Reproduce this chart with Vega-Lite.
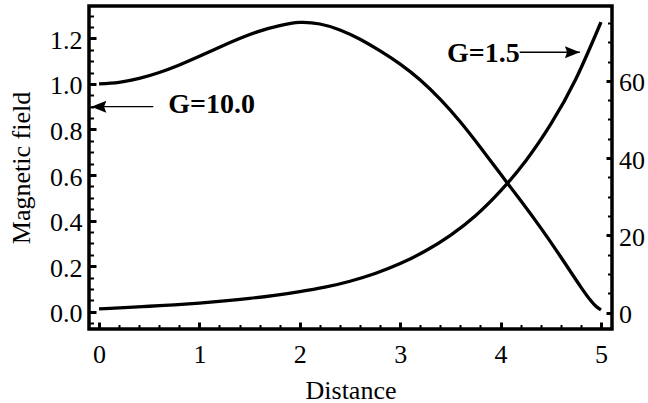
{
  "$schema": "https://vega.github.io/schema/vega-lite/v6.json",
  "width": 523,
  "height": 323,
  "autosize": {"type": "none"},
  "padding": {"left": 89, "top": 6, "right": 36, "bottom": 74},
  "background": "white",
  "datasets": {
    "fieldA": [
      {"d": 0.00, "b": 1.000}, {"d": 0.20, "b": 1.007}, {"d": 0.40, "b": 1.024},
      {"d": 0.60, "b": 1.050}, {"d": 0.80, "b": 1.083}, {"d": 1.00, "b": 1.121},
      {"d": 1.20, "b": 1.161}, {"d": 1.40, "b": 1.199}, {"d": 1.60, "b": 1.232},
      {"d": 1.80, "b": 1.256}, {"d": 2.00, "b": 1.270}, {"d": 2.20, "b": 1.263},
      {"d": 2.40, "b": 1.237}, {"d": 2.60, "b": 1.196}, {"d": 2.80, "b": 1.145},
      {"d": 3.00, "b": 1.087}, {"d": 3.20, "b": 1.017}, {"d": 3.40, "b": 0.932},
      {"d": 3.60, "b": 0.833}, {"d": 3.80, "b": 0.721}, {"d": 4.00, "b": 0.604},
      {"d": 4.20, "b": 0.488}, {"d": 4.40, "b": 0.368}, {"d": 4.60, "b": 0.240},
      {"d": 4.80, "b": 0.108}, {"d": 4.90, "b": 0.048}, {"d": 4.95, "b": 0.024},
      {"d": 5.00, "b": 0.008}
    ],
    "fieldB": [
      {"d": 0.00, "b": 0.95}, {"d": 0.25, "b": 1.25}, {"d": 0.50, "b": 1.62},
      {"d": 0.75, "b": 2.0}, {"d": 1.00, "b": 2.45}, {"d": 1.25, "b": 3.0},
      {"d": 1.50, "b": 3.65}, {"d": 1.75, "b": 4.45}, {"d": 2.00, "b": 5.4},
      {"d": 2.25, "b": 6.55}, {"d": 2.50, "b": 8.1}, {"d": 2.75, "b": 10.1},
      {"d": 3.00, "b": 12.68}, {"d": 3.25, "b": 15.92}, {"d": 3.50, "b": 19.99},
      {"d": 3.75, "b": 25.08}, {"d": 4.00, "b": 31.5}, {"d": 4.25, "b": 39.25},
      {"d": 4.50, "b": 48.77}, {"d": 4.75, "b": 60.5}, {"d": 5.00, "b": 75.2}
    ],
    "arrows": [
      {"name": "G=10.0", "tail": 0.54, "tip": -0.077, "y": 0.9, "dir": "left"},
      {"name": "G=1.5", "tail": 4.19, "tip": 4.79, "y": 1.139, "dir": "right"}
    ],
    "labels": [
      {"text": "G=10.0", "x": 0.69, "y": 0.871},
      {"text": "G=1.5", "x": 4.19, "y": 1.0975}
    ]
  },
  "layer": [
    {
      "data": {"name": "fieldA"},
      "mark": {"type": "line", "color": "black", "strokeWidth": 3.3, "interpolate": "natural"},
      "encoding": {
        "x": {
          "field": "d", "type": "quantitative",
          "scale": {"domain": [-0.1, 5.11], "nice": false, "zero": false},
          "axis": {
            "orient": "bottom", "values": [0, 1, 2, 3, 4, 5], "format": "d",
            "title": "Distance", "tickSize": -7, "tickWidth": 3, "labelPadding": 19,
            "titleBaseline": "alphabetic", "titleY": 69
          }
        },
        "y": {
          "field": "b", "type": "quantitative",
          "scale": {"domain": [-0.076, 1.342], "nice": false, "zero": false},
          "axis": {
            "orient": "left", "values": [0, 0.2, 0.4, 0.6, 0.8, 1.0, 1.2], "format": ".1f",
            "title": "Magnetic field", "tickSize": -7, "tickWidth": 3, "labelPadding": 14,
            "labelOffset": 2, "titleBaseline": "alphabetic", "titleX": -60, "titleY": 161.5
          }
        }
      }
    },
    {
      "data": {"name": "fieldA"},
      "mark": {"type": "line", "opacity": 0},
      "encoding": {
        "x": {
          "field": "d", "type": "quantitative",
          "scale": {"domain": [-0.1, 5.11], "nice": false, "zero": false},
          "axis": {
            "orient": "bottom", "labels": false, "title": null, "tickSize": -4.5, "tickWidth": 2,
            "values": [0.2, 0.4, 0.6, 0.8, 1.2, 1.4, 1.6, 1.8, 2.2, 2.4, 2.6, 2.8, 3.2, 3.4, 3.6, 3.8, 4.2, 4.4, 4.6, 4.8]
          }
        },
        "y": {
          "field": "b", "type": "quantitative",
          "scale": {"domain": [-0.076, 1.342], "nice": false, "zero": false},
          "axis": {
            "orient": "left", "labels": false, "title": null, "tickSize": -4.5, "tickWidth": 2,
            "values": [-0.05, 0.05, 0.1, 0.15, 0.25, 0.3, 0.35, 0.45, 0.5, 0.55, 0.65, 0.7, 0.75, 0.85, 0.9, 0.95, 1.05, 1.1, 1.15, 1.25, 1.3]
          }
        }
      }
    },
    {
      "data": {"name": "fieldB"},
      "mark": {"type": "line", "color": "black", "strokeWidth": 3.3, "interpolate": "natural"},
      "encoding": {
        "x": {
          "field": "d", "type": "quantitative",
          "scale": {"domain": [-0.1, 5.11], "nice": false, "zero": false},
          "axis": null
        },
        "y": {
          "field": "b", "type": "quantitative",
          "scale": {"domain": [-4.27, 79.4], "nice": false, "zero": false},
          "axis": {
            "orient": "right", "values": [0, 20, 40, 60], "format": "d", "title": null,
            "tickSize": -6, "tickWidth": 3, "labelPadding": 12.5, "labelOffset": 2
          }
        }
      }
    },
    {
      "data": {"name": "fieldB"},
      "mark": {"type": "line", "opacity": 0},
      "encoding": {
        "x": {
          "field": "d", "type": "quantitative",
          "scale": {"domain": [-0.1, 5.11], "nice": false, "zero": false},
          "axis": null
        },
        "y": {
          "field": "b", "type": "quantitative",
          "scale": {"domain": [-4.27, 79.4], "nice": false, "zero": false},
          "axis": {
            "orient": "right", "labels": false, "title": null, "tickSize": -4.5, "tickWidth": 2,
            "values": [5, 10, 15, 25, 30, 35, 45, 50, 55, 65, 70, 75]
          }
        }
      }
    },
    {
      "data": {"name": "arrows"},
      "mark": {"type": "rule", "color": "black", "strokeWidth": 1.3},
      "encoding": {
        "x": {
          "field": "tail", "type": "quantitative",
          "scale": {"domain": [-0.1, 5.11], "nice": false, "zero": false},
          "axis": null
        },
        "x2": {"field": "tip"},
        "y": {
          "field": "y", "type": "quantitative",
          "scale": {"domain": [-0.076, 1.342], "nice": false, "zero": false},
          "axis": null
        }
      }
    },
    {
      "data": {"name": "arrows"},
      "mark": {"type": "point", "filled": true, "opacity": 1, "size": 225, "strokeWidth": 0},
      "encoding": {
        "x": {
          "field": "tip", "type": "quantitative",
          "scale": {"domain": [-0.1, 5.11], "nice": false, "zero": false},
          "axis": null
        },
        "y": {
          "field": "y", "type": "quantitative",
          "scale": {"domain": [-0.076, 1.342], "nice": false, "zero": false},
          "axis": null
        },
        "shape": {
          "field": "dir", "type": "nominal",
          "scale": {
            "domain": ["left", "right"],
            "range": ["M0,0L2,-0.8L1.7,0L2,0.8Z", "M0,0L-2,-0.8L-1.7,0L-2,0.8Z"]
          },
          "legend": null
        },
        "color": {"value": "black"}
      }
    },
    {
      "data": {"name": "labels"},
      "transform": [{"filter": "datum.text === 'G=10.0'"}],
      "mark": {"type": "text", "font": "Liberation Serif", "fontWeight": "bold", "fontSize": 28, "align": "left", "baseline": "alphabetic", "color": "black"},
      "encoding": {
        "x": {
          "field": "x", "type": "quantitative",
          "scale": {"domain": [-0.1, 5.11], "nice": false, "zero": false},
          "axis": null
        },
        "y": {
          "field": "y", "type": "quantitative",
          "scale": {"domain": [-0.076, 1.342], "nice": false, "zero": false},
          "axis": null
        },
        "text": {"field": "text"}
      }
    },
    {
      "data": {"name": "labels"},
      "transform": [{"filter": "datum.text === 'G=1.5'"}],
      "mark": {"type": "text", "font": "Liberation Serif", "fontWeight": "bold", "fontSize": 28, "align": "right", "baseline": "alphabetic", "color": "black"},
      "encoding": {
        "x": {
          "field": "x", "type": "quantitative",
          "scale": {"domain": [-0.1, 5.11], "nice": false, "zero": false},
          "axis": null
        },
        "y": {
          "field": "y", "type": "quantitative",
          "scale": {"domain": [-0.076, 1.342], "nice": false, "zero": false},
          "axis": null
        },
        "text": {"field": "text"}
      }
    }
  ],
  "resolve": {
    "scale": {"y": "independent"},
    "axis": {"x": "independent", "y": "independent"}
  },
  "config": {
    "view": {"stroke": "black", "strokeWidth": 3.5},
    "axis": {
      "labelFont": "Liberation Serif",
      "titleFont": "Liberation Serif",
      "labelFontSize": 26,
      "titleFontSize": 26,
      "titleFontWeight": "normal",
      "labelColor": "black",
      "titleColor": "black",
      "tickColor": "black",
      "domain": false,
      "grid": false,
      "labelFlush": false,
      "labelOverlap": false
    }
  }
}
